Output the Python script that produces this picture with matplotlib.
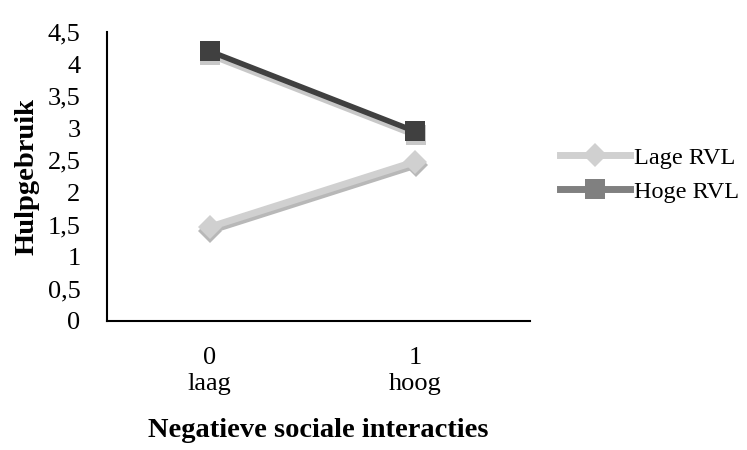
import matplotlib
matplotlib.use("Agg")
import matplotlib.pyplot as plt
import matplotlib.transforms as mtransforms
from matplotlib.lines import Line2D

categories = ["0\nlaag", "1\nhoog"]
lage_rvl = [1.46, 2.48]
hoge_rvl = [4.2, 2.95]
y_ticks = [0, 0.5, 1, 1.5, 2, 2.5, 3, 3.5, 4, 4.5]
y_labels = ["0", "0,5", "1", "1,5", "2", "2,5", "3", "3,5", "4", "4,5"]

plt.rcParams["font.family"] = ["Liberation Serif", "DejaVu Serif"]

fig = plt.figure(figsize=(7.47, 4.5), dpi=100)
ax = fig.add_axes([0.143, 0.287, 0.567, 0.642])

x = list(range(len(categories)))
shadow = mtransforms.offset_copy(ax.transData, fig=fig, x=0.5, y=-2.5, units="points")

# shadows
ax.plot(x, lage_rvl, color="#b8b8b8", lw=5, marker="D", ms=12, mew=0,
        transform=shadow, zorder=2)
ax.plot(x, hoge_rvl, color="#c8c8c8", lw=5, marker="s", ms=15, mew=0,
        transform=shadow, zorder=2)
# series
ax.plot(x, lage_rvl, color="#d0d0d0", lw=5, marker="D", ms=12, mew=0, zorder=3)
ax.plot(x, hoge_rvl, color="#404040", lw=4, marker="s", ms=15, mew=0, zorder=3)

ax.set_xlim(-0.5, 1.56)
ax.set_ylim(0, 4.5)
ax.set_yticks(y_ticks)
ax.set_yticklabels(y_labels)
ax.set_xticks(x)
ax.set_xticklabels(categories, linespacing=1.25)
ax.tick_params(axis="both", length=0, labelsize=19)
ax.tick_params(axis="y", pad=19)
ax.tick_params(axis="x", pad=19)

for s in ["top", "right"]:
    ax.spines[s].set_visible(False)
for s in ["left", "bottom"]:
    ax.spines[s].set_linewidth(1.5)
    ax.spines[s].set_color("black")

ax.set_ylabel("Hulpgebruik", fontsize=20.5, fontweight="bold", labelpad=6)
ax.set_xlabel("Negatieve sociale interacties", fontsize=20.5, fontweight="bold", labelpad=16)

handles = [
    Line2D([], [], color="#d0d0d0", lw=5, marker="D", ms=12, mew=0),
    Line2D([], [], color="#808080", lw=5, marker="s", ms=14, mew=0),
]
fig.legend(handles, ["Lage RVL", "Hoge RVL"], loc="center left",
           bbox_to_anchor=(0.72, 0.612), frameon=False, fontsize=17.5,
           handlelength=2.9, handletextpad=0.15, labelspacing=0.5)

fig.savefig("out.png", dpi=100)
